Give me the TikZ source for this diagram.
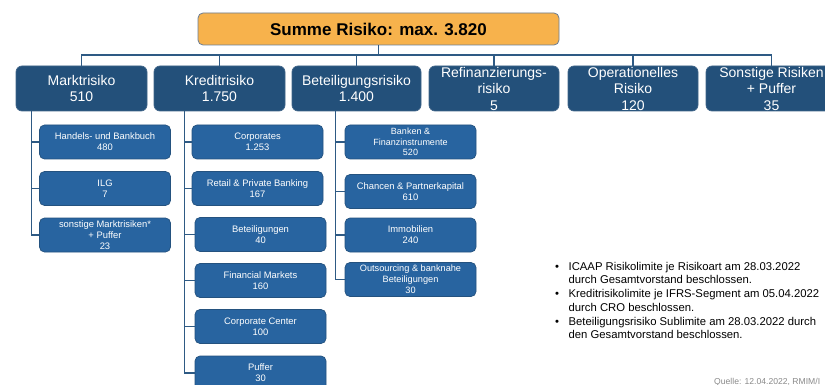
\documentclass[tikz,border=0pt]{standalone}
\usepackage{fontspec}
\setmainfont{Liberation Sans}
\definecolor{topfill}{HTML}{F7B24C}
\definecolor{topline}{HTML}{6B7D95}
\definecolor{mainfill}{HTML}{23507A}
\definecolor{mainline}{HTML}{3F6488}
\definecolor{subfill}{HTML}{2864A0}
\definecolor{subline}{HTML}{24527F}
\definecolor{conn}{HTML}{2E5A84}
\definecolor{quelle}{HTML}{8A8A8A}
\tikzset{
  topbox/.style={draw=topline, line width=0.8pt, fill=topfill, rounded corners=5pt,
    minimum width=361pt, minimum height=32pt, inner sep=0pt,
    font=\fontsize{17}{19}\selectfont\bfseries, text=black},
  mainbox/.style={draw=mainline, line width=0.7pt, fill=mainfill, rounded corners=6pt,
    minimum width=131pt, minimum height=45pt, inner sep=0pt, align=center,
    font=\fontsize{14}{16.5}\selectfont, text=white},
  subbox/.style={draw=subline, line width=0.7pt, fill=subfill, rounded corners=5pt,
    minimum width=131pt, minimum height=34pt, inner sep=0pt, align=center,
    font=\fontsize{9.4}{11}\selectfont, text=white},
  link/.style={draw=conn, line width=1.6pt},
  sublink/.style={draw=conn, line width=1.4pt}
}
\begin{document}
\begin{tikzpicture}[x=1pt,y=-1pt]
\useasboundingbox (0,0) rectangle (825,385);
\clip (0,0) rectangle (825,385);
\fill[white] (0,0) rectangle (825,385);

% top
\node[topbox] (top) at (378.5,29) {Summe Risiko: max. 3.820};

% main boxes
\node[mainbox] (mk) at (81.5,88.5) {Marktrisiko\\510};
\node[mainbox] (kr) at (219.5,88.5) {Kreditrisiko\\1.750};
\node[mainbox, minimum width=129pt] (be) at (356.5,88.5) {Beteiligungsrisiko\\1.400};
\node[mainbox, minimum width=130pt] (re) at (494,88.5) {Refinanzierungs-\\risiko\\5};
\node[mainbox, minimum width=130pt] (op) at (633,88.5) {Operationelles\\Risiko\\120};
\node[mainbox] (so) at (771.5,88.5) {Sonstige Risiken\\+ Puffer\\35};

\coordinate (hub) at (378.5,55);
\draw[link] (top.south) -- (hub);
\foreach \n in {mk,kr,be,re,op,so}{
  \draw[link] (hub) -| (\n.north);
}

% Marktrisiko sub
\node[subbox] (m1) at (105,142) {Handels- und Bankbuch\\480};
\node[subbox] (m2) at (105,188.5) {ILG\\7};
\node[subbox] (m3) at (105,235) {sonstige Marktrisiken*\\+ Puffer\\23};
\foreach \n in {m1,m2,m3}{
  \draw[sublink] (mk.south west) ++(16,0) |- (\n.west);
}

% Kreditrisiko sub
\node[subbox] (k1) at (257.5,142) {Corporates\\1.253};
\node[subbox] (k2) at (257.5,188.5) {Retail \& Private Banking\\167};
\node[subbox] (k3) at (260.5,234.5) {Beteiligungen\\40};
\node[subbox] (k4) at (260.5,280.5) {Financial Markets\\160};
\node[subbox] (k5) at (260.5,326.5) {Corporate Center\\100};
\node[subbox] (k6) at (260.5,373) {Puffer\\30};
\foreach \n in {k1,k2,k3,k4,k5,k6}{
  \draw[sublink] (kr.south west) ++(31,0) |- (\n.west);
}

% Beteiligungsrisiko sub
\node[subbox, font=\fontsize{9}{10.5}\selectfont] (b1) at (410.5,142) {Banken \&\\Finanzinstrumente\\520};
\node[subbox] (b2) at (410.5,191.5) {Chancen \& Partnerkapital\\610};
\node[subbox] (b3) at (410.5,235) {Immobilien\\240};
\node[subbox, font=\fontsize{9.2}{10.8}\selectfont] (b4) at (410.5,279.5) {Outsourcing \& banknahe\\Beteiligungen\\30};
\foreach \n in {b1,b2,b3,b4}{
  \draw[sublink] (be.south west) ++(44,0) |- (\n.west);
}

% notes
\node[anchor=north west, inner sep=0pt, font=\fontsize{11.3}{13.7}\selectfont] (notes) at (555,260.5) {%
\begin{tabular}{@{}l@{\hspace{9.5pt}}l@{}}
\textbullet & ICAAP Risikolimite je Risikoart am 28.03.2022\\
 & durch Gesamtvorstand beschlossen.\\
\textbullet & Kreditrisikolimite je IFRS-Segment am 05.04.2022\\
 & durch CRO beschlossen.\\
\textbullet & Beteiligungsrisiko Sublimite am 28.03.2022 durch\\
 & den Gesamtvorstand beschlossen.
\end{tabular}};

\node[anchor=base west, inner sep=0pt, text=quelle, font=\fontsize{8.6}{10}\selectfont] (src) at (714,384) {Quelle: 12.04.2022, RMIM/I};
\end{tikzpicture}
\end{document}
